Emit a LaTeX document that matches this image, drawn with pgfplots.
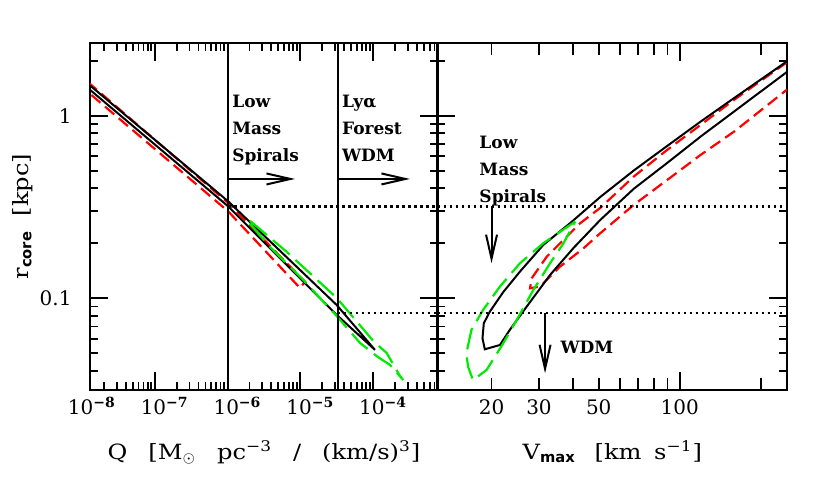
\documentclass[border=0pt]{standalone}
\usepackage{fontspec}
\setmainfont{DejaVu Serif}
\newfontfamily\labfont[FakeStretch=1.15]{DejaVu Serif}
\newfontfamily\subfont{DejaVu Sans}
\usepackage{pgfplots}
\pgfplotsset{compat=1.18}
\usetikzlibrary{arrows.meta}

\definecolor{lgreen}{RGB}{0,235,0}
\newcommand\annfont{\bfseries\fontsize{8.5}{13.5}\selectfont}
\newcommand\tickfont{\fontsize{10}{12}\selectfont}

\pgfplotsset{
  panel/.style={
    scale only axis, height=173.5pt,
    ymin=0.0314, ymax=2.5,
    clip mode=individual,
    axis line style={line width=1.4pt},
    tick style={line width=0.9pt, black},
    major tick length=9pt, minor tick length=4pt,
    tick align=inside,
    ytick={0.1,1},
    minor ytick={0.04,0.05,0.06,0.07,0.08,0.09,0.2,0.3,0.4,0.5,0.6,0.7,0.8,0.9,2},
    tick label style={font=\tickfont},
    xlabel style={font=\labfont\fontsize{10.5}{12}\selectfont,
                  at={(axis description cs:0.5,-0.199)}, anchor=base},
  },
  blk/.style={black, line width=1pt},
  reddash/.style={red, line width=1.1pt, dash pattern=on 6pt off 3pt},
  grndash/.style={lgreen, line width=1.1pt, dash pattern=on 11pt off 4pt},
  dotline/.style={black, line width=1.2pt, dash pattern=on 1.2pt off 1.8pt},
}
\tikzset{ann/.style={line width=1pt, -{Straight Barb[length=12pt,width=5.5pt,line width=1pt]}}}

\begin{document}
\begin{tikzpicture}
\useasboundingbox (0,0) rectangle (415pt,-239.5pt);

% left panel: r_core against Q
\begin{loglogaxis}[panel,
  at={(45pt,-195pt)}, anchor=south west, width=174pt,
  xmin=1.29e-8, xmax=7.8e-4,
  xtick={1e-7,1e-6,1e-5,1e-4},
  xticklabels={10\textsuperscript{\bfseries −7},10\textsuperscript{\bfseries −6},
               10\textsuperscript{\bfseries −5},10\textsuperscript{\bfseries −4}},
  minor xtick={2e-8,3e-8,4e-8,5e-8,6e-8,7e-8,8e-8,9e-8,
               2e-7,3e-7,4e-7,5e-7,6e-7,7e-7,8e-7,9e-7,
               2e-6,3e-6,4e-6,5e-6,6e-6,7e-6,8e-6,9e-6,
               2e-5,3e-5,4e-5,5e-5,6e-5,7e-5,8e-5,9e-5,
               2e-4,3e-4,4e-4,5e-4,6e-4,7e-4},
  xticklabel style={xshift=5pt},
  yticklabels={0.1,1},
  yticklabel style={xshift=-5.7pt},
  xlabel={Q\hspace{1em}[M\textsubscript{$\odot$}\hspace{1em}pc\textsuperscript{−3}\hspace{1em}/\hspace{1em}(km/s)\textsuperscript{3}]},
  ylabel={r\textsubscript{\subfont\bfseries core}\hspace{0.7em}[kpc]},
  ylabel style={font=\labfont\fontsize{10.5}{12}\selectfont,
                at={(axis description cs:-0.178,0.5)}, anchor=base},
]
\addplot[reddash] coordinates {
  (1.2e-8,1.53) (1.026e-6,0.332) (1.16e-5,0.123) (9.9e-6,0.1138)
  (1.026e-6,0.2985) (1.2e-8,1.35)};
\addplot[blk] coordinates {
  (1.2e-8,1.50) (1.026e-6,0.3388) (3.162e-5,0.0918) (1.062e-4,0.0521)
  (3.162e-5,0.081) (1.026e-6,0.318) (1.2e-8,1.42)};
\addplot[grndash] coordinates {
  (2.04e-6,0.2655) (6.5e-6,0.1795) (3.162e-5,0.1004) (1.007e-4,0.0583)
  (1.538e-4,0.0501) (2.344e-4,0.0375) (2.6e-4,0.0356) (1.706e-4,0.0431)
  (1.167e-4,0.0476) (6.61e-5,0.0569) (3.162e-5,0.0799) (1.099e-5,0.126)
  (3.84e-6,0.1911) (2.04e-6,0.2557) (2.04e-6,0.2655)};

\addplot[blk] coordinates {(1.02e-6,0.0314) (1.02e-6,2.5)};
\addplot[blk] coordinates {(3.25e-5,0.0314) (3.25e-5,2.5)};
\addplot[dotline] coordinates {(1.02e-6,0.318) (7.8e-4,0.318)};
\addplot[dotline] coordinates {(3.25e-5,0.0828) (7.8e-4,0.0828)};

\node[anchor=north west, align=left, inner sep=0pt, font=\annfont]
  at (axis cs:1.15e-6,1.30) {Low\\Mass\\Spirals};
\node[anchor=north west, align=left, inner sep=0pt, font=\annfont]
  at (axis cs:3.71e-5,1.30) {Lyα\\Forest\\WDM};
\draw[ann] (axis cs:1.02e-6,0.45) -- (axis cs:8.45e-6,0.45);
\draw[ann] (axis cs:3.25e-5,0.45) -- (axis cs:3.21e-4,0.45);

% the 10^-8 label sits just left of the frame
\node[anchor=north, font=\tickfont, xshift=5pt]
  at (axis cs:1e-8,0.0314) {10\textsuperscript{\bfseries −8}};
\end{loglogaxis}

% right panel: r_core against V_max
\begin{loglogaxis}[panel,
  at={(218.75pt,-195pt)}, anchor=south west, width=174.75pt,
  xmin=12.6, xmax=250,
  xtick={100},
  xticklabels={100},
  minor xtick={},
  extra x ticks={20,30,40,50,60,70,80,90,200},
  extra x tick labels={20,30,,50,,,,,},
  extra x tick style={major tick length=6pt},
  xticklabel style={yshift=-1.5pt},
  yticklabel=\empty,
  xlabel={V\textsubscript{\subfont\bfseries max}\hspace{0.9em}[km\hspace{0.6em}s\textsuperscript{−1}]},
]
\addplot[reddash] coordinates {
  (250,1.961) (159.4,1.224) (119.7,0.892) (89.95,0.651) (67.51,0.4645)
  (50.72,0.3128) (42.71,0.2578) (35.96,0.2002) (32.08,0.1691) (28.2,0.1287)
  (27.79,0.1134) (30.28,0.1158) (35.96,0.1491) (43.94,0.188) (50.72,0.2273)
  (67.51,0.3248) (89.95,0.4456) (119.7,0.611) (159.4,0.82) (250,1.389)};
\addplot[blk] coordinates {
  (250,1.986) (159.4,1.251) (119.7,0.93) (89.95,0.684) (67.51,0.501)
  (50.72,0.359) (39.19,0.258) (31.15,0.196) (25.51,0.14) (22.1,0.108)
  (19.71,0.0844) (18.72,0.0729) (18.51,0.0603) (18.88,0.0525) (21.48,0.0554)
  (23.4,0.0672) (27.02,0.0900) (33,0.1342) (40.32,0.1886) (50.72,0.2688)
  (67.51,0.398) (89.95,0.552) (119.7,0.77) (159.4,1.056) (250,1.737)};
\addplot[grndash] coordinates {
  (40.9,0.263) (31.15,0.2002) (25.51,0.1556) (21.48,0.1158) (18.61,0.0863)
  (16.84,0.067) (16.13,0.0499) (16.36,0.0421) (17.07,0.0356) (19.16,0.0404)
  (22.1,0.0566) (24.8,0.076) (28.59,0.111) (33,0.1556) (37,0.2002) (40.9,0.263)};

\addplot[dotline] coordinates {(12.6,0.318) (250,0.318)};
\addplot[dotline] coordinates {(12.6,0.0828) (250,0.0828)};

\node[anchor=north west, align=left, inner sep=0pt, font=\annfont]
  at (axis cs:17.98,0.78) {Low\\Mass\\Spirals};
\draw[ann] (axis cs:20,0.318) -- (axis cs:20,0.1556);
\draw[ann] (axis cs:31.6,0.0828) -- (axis cs:31.6,0.0388);
\node[anchor=west, inner sep=0pt, font=\annfont] at (axis cs:35.96,0.054) {WDM};
\end{loglogaxis}
\end{tikzpicture}
\end{document}
